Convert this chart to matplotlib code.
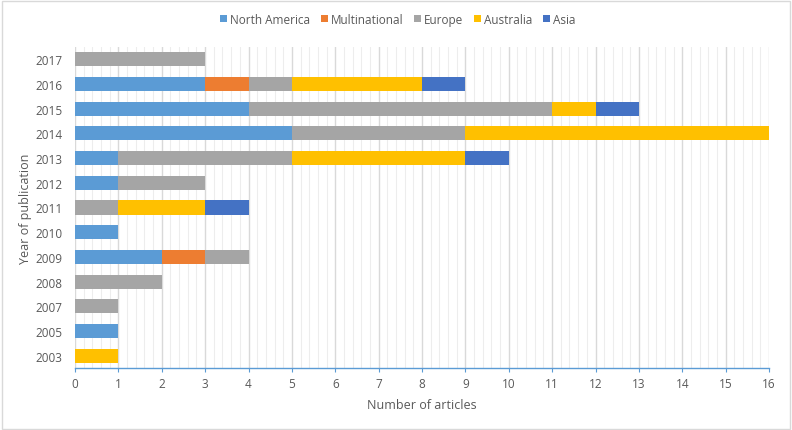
import matplotlib
matplotlib.use("Agg")
import matplotlib.pyplot as plt
from matplotlib.patches import Rectangle
from matplotlib.ticker import MultipleLocator
import numpy as np

plt.rcParams['font.family'] = ['Open Sans', 'DejaVu Sans']

# data, bottom row first
years = ['2003', '2005', '2007', '2008', '2009', '2010', '2011',
         '2012', '2013', '2014', '2015', '2016', '2017']
north_america = [0, 1, 0, 0, 2, 1, 0, 1, 1, 5, 4, 3, 0]
multinational = [0, 0, 0, 0, 1, 0, 0, 0, 0, 0, 0, 1, 0]
europe        = [0, 0, 1, 2, 1, 0, 1, 2, 4, 4, 7, 1, 3]
australia     = [1, 0, 0, 0, 0, 0, 2, 0, 4, 7, 1, 3, 0]
asia          = [0, 0, 0, 0, 0, 0, 1, 0, 1, 0, 1, 1, 0]

series = [('North America', north_america, '#5B9BD5'),
          ('Multinational', multinational, '#ED7D31'),
          ('Europe', europe, '#A5A5A5'),
          ('Australia', australia, '#FFC000'),
          ('Asia', asia, '#4472C4')]

fig = plt.figure(figsize=(7.92, 4.31), dpi=100)
ax = fig.add_axes([0.0947, 0.1439, 0.8763, 0.7447])

y = np.arange(len(years))
left = np.zeros(len(years))
for name, vals, col in series:
    vals = np.array(vals, dtype=float)
    ax.barh(y, vals, left=left, height=0.57, color=col, label=name, zorder=3)
    left += vals

ax.set_xlim(0, 16)
ax.set_ylim(-0.5, len(years) - 0.5)
ax.set_yticks(y)
ax.set_yticklabels(years)
ax.xaxis.set_major_locator(MultipleLocator(1))
ax.xaxis.set_minor_locator(MultipleLocator(0.2))
ax.grid(axis='x', which='major', color='#D9D9D9', lw=1, zorder=0)
ax.grid(axis='x', which='minor', color='#EDEDED', lw=0.8, zorder=0)

for s in ['top', 'right', 'left']:
    ax.spines[s].set_visible(False)
ax.spines['bottom'].set_color('#5B9BD5')
ax.spines['bottom'].set_linewidth(1)
ax.tick_params(axis='x', which='major', colors='#595959', labelsize=8.5,
               length=3, direction='out', color='#5B9BD5')
ax.tick_params(axis='x', which='minor', length=0)
ax.tick_params(axis='y', colors='#595959', labelsize=8.5, length=0, pad=9)

ax.set_xlabel('Number of articles', fontsize=9, color='#595959', labelpad=6)
ax.set_ylabel('Year of publication', fontsize=9, color='#595959', labelpad=2)

ax.legend(loc='upper center', bbox_to_anchor=(0.465, 1.14), ncol=5,
          frameon=False, fontsize=8.5, labelcolor='#595959',
          handlelength=0.6, handleheight=0.6, handletextpad=0.25,
          columnspacing=0.9)

fig.patches.append(Rectangle((0.002, 0.003), 0.995, 0.993, transform=fig.transFigure,
                             fill=False, edgecolor='#D9D9D9', lw=1))

fig.savefig('out.png', dpi=100)
